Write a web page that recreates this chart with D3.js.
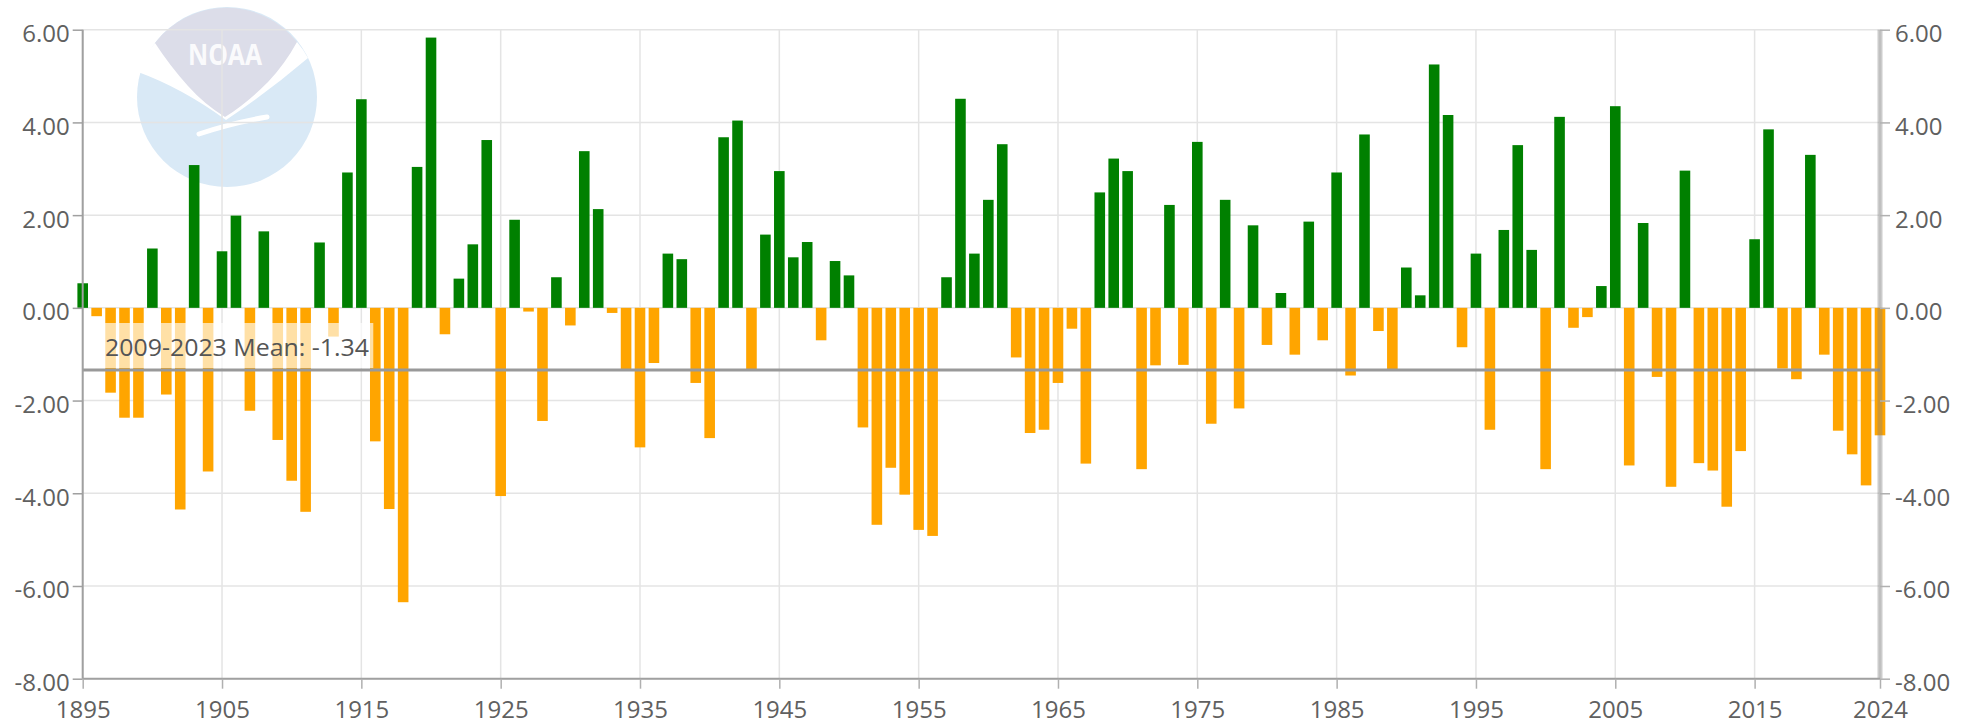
<!DOCTYPE html>
<html>
<head>
<meta charset="utf-8">
<script src="https://cdn.jsdelivr.net/npm/d3@7"></script>
<style>
  html, body { margin: 0; padding: 0; background: #ffffff; }
  svg { display: block; }
  text { font-family: "Open Sans", "DejaVu Sans", sans-serif; }
</style>
</head>
<body>
<svg id="chart" width="1972" height="724"></svg>
<script>
// ---- data ----
const startYear = 1895;
const endYear = 2024;
const anomalies = [
  // 1895-1904
  0.53, -0.18, -1.83, -2.37, -2.37, 1.28, -1.87, -4.35, 3.08, -3.53,
  // 1905-1914
  1.22, 1.99, -2.22, 1.65, -2.85, -3.73, -4.40, 1.41, -0.62, 2.92,
  // 1915-1924
  4.50, -2.88, -4.34, -6.35, 3.04, 5.83, -0.57, 0.63, 1.37, 3.62,
  // 1925-1934
  -4.06, 1.90, -0.08, -2.44, 0.66, -0.38, 3.38, 2.13, -0.11, -1.32,
  // 1935-1944
  -3.01, -1.19, 1.17, 1.05, -1.62, -2.81, 3.68, 4.04, -1.34, 1.58,
  // 1945-1954
  2.95, 1.09, 1.42, -0.70, 1.01, 0.70, -2.58, -4.68, -3.45, -4.03,
  // 1955-1964
  -4.79, -4.92, 0.66, 4.51, 1.17, 2.33, 3.53, -1.07, -2.70, -2.63,
  // 1965-1974
  -1.62, -0.45, -3.36, 2.49, 3.22, 2.95, -3.48, -1.24, 2.22, -1.23,
  // 1975-1984
  3.58, -2.50, 2.33, -2.17, 1.78, -0.80, 0.32, -1.01, 1.86, -0.70,
  // 1985-1994
  2.92, -1.46, 3.74, -0.50, -1.34, 0.87, 0.27, 5.25, 4.16, -0.85,
  // 1995-2004
  1.17, -2.63, 1.68, 3.51, 1.25, -3.48, 4.12, -0.43, -0.20, 0.47,
  // 2005-2014
  4.35, -3.40, 1.83, -1.49, -3.86, 2.96, -3.35, -3.51, -4.29, -3.09,
  // 2015-2024
  1.48, 3.85, -1.31, -1.54, 3.30, -1.01, -2.65, -3.16, -3.83, -2.75
];
const years = anomalies.map((_, i) => startYear + i);
const xTickYears = [1895, 1905, 1915, 1925, 1935, 1945, 1955, 1965, 1975, 1985, 1995, 2005, 2015, 2024];
const yTickValues = [-8, -6, -4, -2, 0, 2, 4, 6];
const meanValue = -1.34;
const meanLabel = "2009-2023 Mean: -1.34";
const positiveColor = "#008000";
const negativeColor = "#FFA500";

// ---- layout ----
const svg = d3.select("#chart");
const x = d3.scaleLinear().domain([startYear, endYear]).range([82.7, 1880]);
const y = d3.scaleLinear().domain([-8, 6]).range([678.7, 29.7]);
const barW = 10.6;
const labelColor = "#606060";

// ---- NOAA watermark logo ----
const logo = svg.append("g").attr("class", "logo");
const cx = 227, cy = 97, r = 90;
logo.append("circle").attr("cx", cx).attr("cy", cy).attr("r", r).attr("fill", "#d9e9f6");
// white wings
logo.append("path")
  .attr("d", `M155,43 A${r},${r} 0 0 0 138,72 Q182,88 226,120 L226,60 Z`)
  .attr("fill", "#ffffff");
logo.append("path")
  .attr("d", `M297,42 A${r},${r} 0 0 1 308,58 Q268,92 226,120 L226,60 Z`)
  .attr("fill", "#ffffff");
// grey shield (top)
logo.append("path")
  .attr("d", `M155,43 A${r},${r} 0 0 1 297,42 Q285,64 268,82 Q246,104 225,117 Q204,104 188,86 Q170,66 155,43 Z`)
  .attr("fill", "#dcdde9");
// tail swoosh
logo.append("path")
  .attr("d", "M199,134 Q232,123 267,117")
  .attr("fill", "none").attr("stroke", "#ffffff").attr("stroke-width", 5).attr("stroke-linecap", "round");
logo.append("text")
  .attr("x", 225).attr("y", 65)
  .attr("text-anchor", "middle")
  .attr("font-family", "DejaVu Sans")
  .attr("font-weight", "bold")
  .attr("font-size", 29)
  .attr("textLength", 74)
  .attr("lengthAdjust", "spacingAndGlyphs")
  .attr("fill", "#ffffff")
  .attr("fill-opacity", 0.9)
  .text("NOAA");

// ---- grid ----
const grid = svg.append("g").attr("class", "grid");
grid.selectAll("line.h").data(yTickValues).join("line")
  .attr("class", "h")
  .attr("x1", x(startYear)).attr("x2", x(endYear))
  .attr("y1", d => y(d)).attr("y2", d => y(d))
  .attr("stroke", "#e4e4e4").attr("stroke-width", 1.5);
grid.selectAll("line.v").data(xTickYears).join("line")
  .attr("class", "v")
  .attr("x1", d => x(d)).attr("x2", d => x(d))
  .attr("y1", y(6)).attr("y2", y(-8))
  .attr("stroke", "#e4e4e4").attr("stroke-width", 1.5);

// ---- bars ----
svg.append("g").attr("class", "bars")
  .selectAll("rect").data(years).join("rect")
  .attr("x", (d) => x(d) - barW / 2)
  .attr("width", barW)
  .attr("y", (d, i) => y(Math.max(0, anomalies[i])))
  .attr("height", (d, i) => Math.abs(y(anomalies[i]) - y(0)))
  .attr("fill", (d, i) => anomalies[i] >= 0 ? positiveColor : negativeColor);

// ---- mean line ----
svg.append("line")
  .attr("x1", x(startYear)).attr("x2", x(endYear))
  .attr("y1", y(meanValue)).attr("y2", y(meanValue))
  .attr("stroke", "#999999").attr("stroke-width", 3);

// label with translucent box
const lbl = svg.append("g");
const lblText = lbl.append("text")
  .attr("x", 105).attr("y", 356)
  .attr("font-size", 24)
  .attr("textLength", 264)
  .attr("lengthAdjust", "spacingAndGlyphs")
  .attr("fill", "#555555")
  .text(meanLabel);
const bb = lblText.node().getBBox();
lbl.insert("rect", "text")
  .attr("x", bb.x - 4).attr("y", 323)
  .attr("width", bb.width + 8).attr("height", 45)
  .attr("fill", "#ffffff").attr("fill-opacity", 0.65);

// ---- axes ----
const fmt = v => v.toFixed(2);

const gLeft = svg.append("g").attr("transform", `translate(${x(startYear)},0)`)
  .call(d3.axisLeft(y).tickValues(yTickValues).tickFormat(fmt).tickSize(10).tickPadding(3));
const gRight = svg.append("g").attr("transform", `translate(${x(endYear)},0)`)
  .call(d3.axisRight(y).tickValues(yTickValues).tickFormat(fmt).tickSize(10).tickPadding(5));
const gBottom = svg.append("g").attr("transform", `translate(0,${y(-8)})`)
  .call(d3.axisBottom(x).tickValues(xTickYears).tickFormat(d3.format("d")).tickSize(10).tickPadding(12));

[gLeft, gRight, gBottom].forEach(g => {
  g.selectAll("text")
    .attr("font-size", 24)
    .attr("font-family", '"Open Sans", "DejaVu Sans", sans-serif')
    .attr("fill", labelColor);
});
gLeft.selectAll("text").attr("dy", "0.5em");
gRight.selectAll("text").attr("dy", "0.5em");

gLeft.select(".domain").attr("stroke", "#a0a0a0").attr("stroke-width", 2).attr("d", `M0,${y(6)}V${y(-8)}`);
gLeft.selectAll(".tick line").attr("stroke", "#a0a0a0").attr("stroke-width", 1.5);
gBottom.select(".domain").attr("stroke", "#a0a0a0").attr("stroke-width", 2)
  .attr("d", `M${x(startYear)},0H${x(endYear)}`);
gBottom.selectAll(".tick line").attr("stroke", "#b0b0b0").attr("stroke-width", 1.5);
gRight.select(".domain").attr("stroke", "rgba(128,128,128,0.4)").attr("stroke-width", 5)
  .attr("d", `M0,${y(6)}V${y(-8)}`);
gRight.selectAll(".tick line").attr("stroke", "#b0b0b0").attr("stroke-width", 1.5);
</script>
</body>
</html>
